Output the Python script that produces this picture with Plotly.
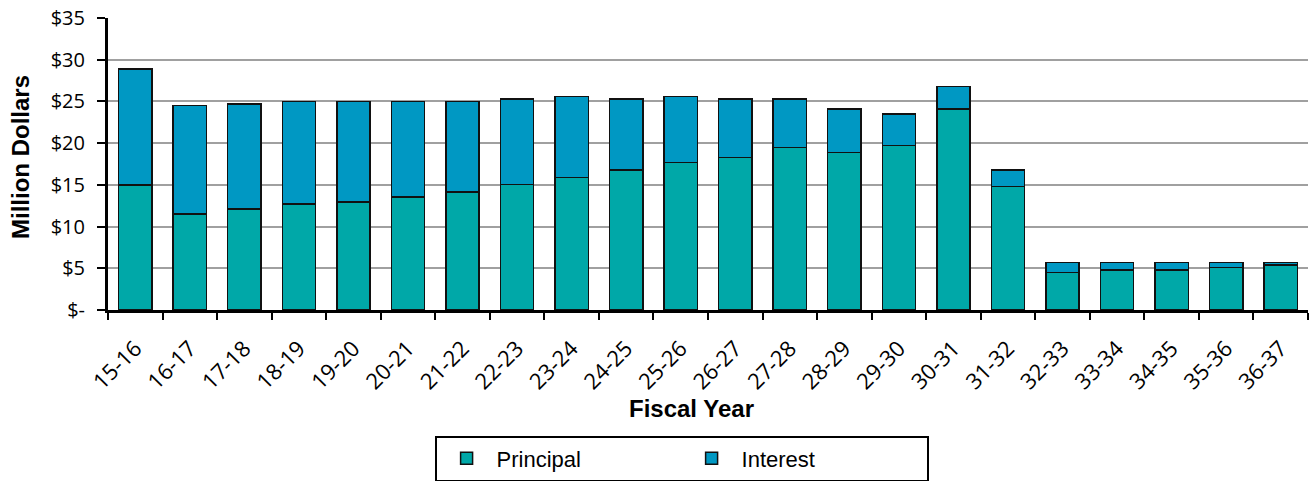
import plotly.graph_objects as go

years = ["15-16", "16-17", "17-18", "18-19", "19-20", "20-21", "21-22", "22-23", "23-24",
         "24-25", "25-26", "26-27", "27-28", "28-29", "29-30", "30-31", "31-32", "32-33",
         "33-34", "34-35", "35-36", "36-37"]
totals = [28.9, 24.5, 24.7, 25.0, 25.0, 25.0, 25.0, 25.3, 25.6, 25.3, 25.6, 25.3, 25.3,
          24.1, 23.5, 26.8, 16.8, 5.7, 5.7, 5.7, 5.7, 5.7]
principal = [15.0, 11.5, 12.1, 12.7, 12.95, 13.55, 14.15, 15.05, 15.9, 16.8, 17.7, 18.3,
             19.5, 18.9, 19.7, 24.1, 14.8, 4.5, 4.8, 4.8, 5.1, 5.4]
interest = [round(t - p, 2) for t, p in zip(totals, principal)]

ytick_vals = [0, 5, 10, 15, 20, 25, 30, 35]
ytick_text = ["$-", "$5", "$10", "$15", "$20", "$25", "$30", "$35"]

fig = go.Figure()
fig.add_trace(go.Bar(x=years, y=principal, name="Principal",
                     marker=dict(color="#00a8a8", line=dict(color="#111111", width=1.5))))
fig.add_trace(go.Bar(x=years, y=interest, name="Interest",
                     marker=dict(color="#0098c3", line=dict(color="#111111", width=1.5))))

fig.update_layout(
    barmode="stack",
    bargap=0.39,
    width=1311, height=481,
    margin=dict(l=108, r=3, t=18, b=171, autoexpand=False),
    plot_bgcolor="white", paper_bgcolor="white",
    showlegend=True,
    legend=dict(orientation="h", x=0.478, xanchor="center", y=-0.43, yanchor="top",
                bordercolor="black", borderwidth=2, bgcolor="white",
                traceorder="normal",
                font=dict(family="Liberation Sans, Arial", size=22, color="black"),
                entrywidth=180, itemwidth=50, tracegroupgap=0),
    annotations=[
        dict(text="<b>Fiscal Year</b>", xref="paper", yref="paper", x=0.486, y=-0.336,
             xanchor="center", yanchor="middle", showarrow=False,
             font=dict(family="Liberation Sans, Arial", size=24, color="black")),
        dict(text="<b>Million Dollars</b>", xref="paper", yref="paper", x=-0.0725, y=0.524,
             xanchor="center", yanchor="middle", showarrow=False, textangle=-90,
             font=dict(family="Liberation Sans, Arial", size=24, color="black")),
    ],
)
fig.update_xaxes(showline=True, linecolor="black", linewidth=3, ticks="outside",
                 tickson="boundaries", ticklen=7, tickwidth=2, tickcolor="black",
                 tickangle=-45, ticklabelstandoff=14,
                 tickfont=dict(family="Open Sans", size=22, color="black"),
                 showgrid=False, automargin=False)
fig.update_yaxes(range=[0, 35], tickvals=ytick_vals, ticktext=ytick_text,
                 showline=True, linecolor="black", linewidth=3, ticks="outside",
                 ticklen=8, tickwidth=2, tickcolor="black", ticklabelstandoff=8,
                 tickfont=dict(family="Open Sans", size=20, color="black"),
                 showgrid=True, gridcolor="#a0a0a0", gridwidth=1.5, zeroline=False,
                 automargin=False)

fig.write_html("out.html")
